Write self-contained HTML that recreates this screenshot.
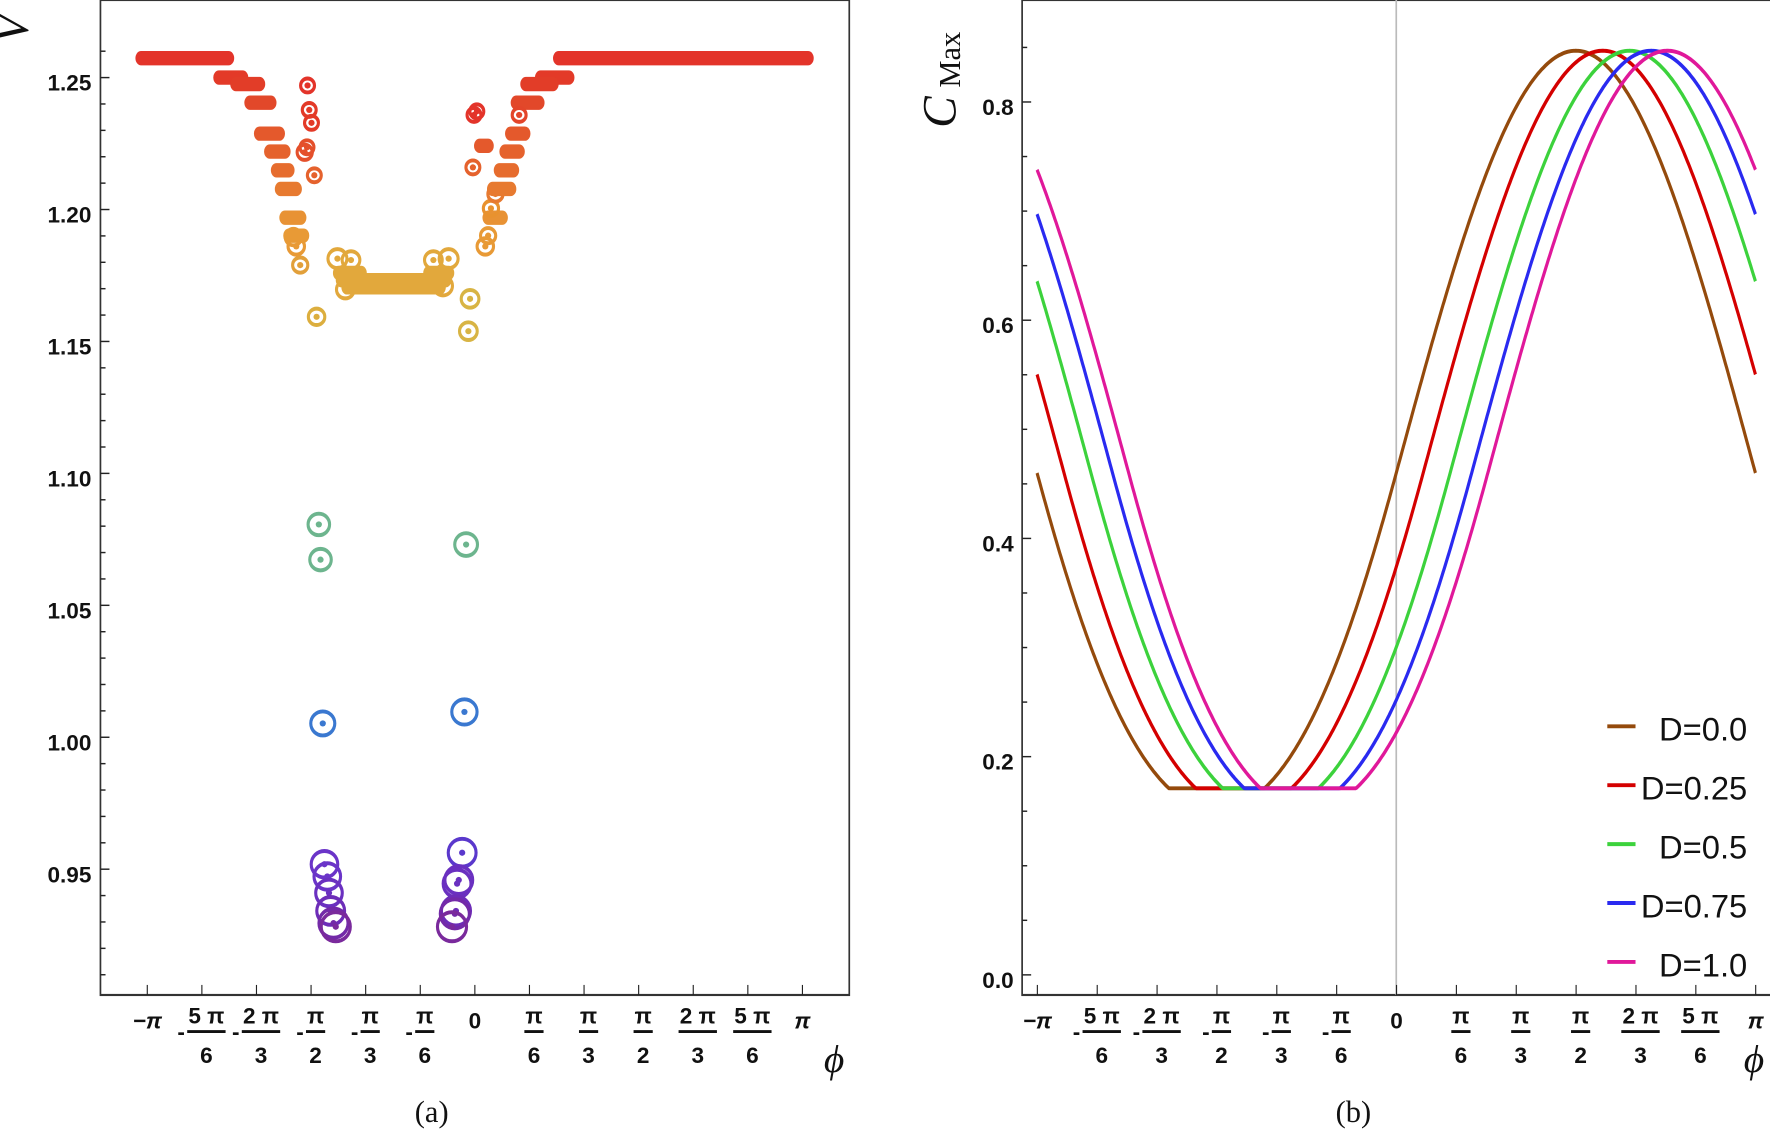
<!DOCTYPE html>
<html><head><meta charset="utf-8"><style>
html,body{margin:0;padding:0;background:#fff;width:1770px;height:1130px;overflow:hidden}
svg{display:block}
.t{font-family:"Liberation Sans",sans-serif;font-weight:bold;font-size:40px;fill:#111}
.n{font-family:"Liberation Sans",sans-serif;font-weight:normal;fill:#111}
.s{font-family:"Liberation Serif",serif;fill:#111}
</style></head><body>
<svg id="s" width="1770" height="1130" viewBox="0 0 1770 1130" xmlns="http://www.w3.org/2000/svg">
<g id="L" transform="scale(0.5643,0.7184)"></g>
<g id="R" transform="translate(885,0) scale(0.5643,0.7184)"></g>
</svg>
<script>
var NS="http://www.w3.org/2000/svg";var K=0.5643/0.7184;
function el(p,tag,a,txt){var e=document.createElementNS(NS,tag);for(var k in a)e.setAttribute(k,a[k]);if(txt!=null)e.textContent=txt;p.appendChild(e);return e;}
function tx(p,x,y,a,txt,rot){a.x=0;a.y=0;a.transform="translate("+x+","+y+") scale(1,"+K+")"+(rot?" rotate(-90)":"");return el(p,'text',a,txt);}
var L=document.getElementById('L'),R=document.getElementById('R');
var labs=[["−","π",""],["-","5 π","6"],["-","2 π","3"],["-","π","2"],["-","π","3"],["-","π","6"],["","0",""],["","π","6"],["","π","3"],["","π","2"],["","2 π","3"],["","5 π","6"],["","π",""]];
var FS=52;
function xaxis(g,x0,dx,bot){
 for(var i=0;i<13;i++){var x=x0+i*dx;
  el(g,'line',{x1:x,y1:bot,x2:x,y2:bot-14,stroke:'#222','stroke-width':2});
  var l=labs[i];
  if(l[2]===""){tx(g,x,1432,{'text-anchor':'middle',class:'t','font-size':FS,'font-style':l[1]=='0'?'normal':'italic'},(l[0]=="−"?"−":"")+l[1]);}
  else{tx(g,x+8,1425,{'text-anchor':'middle',class:'t','font-size':FS},l[1]);
   var w=l[1].length>1?68:34;
   el(g,'line',{x1:x+8-w/2,y1:1436,x2:x+8+w/2,y2:1436,stroke:'#111','stroke-width':4});
   tx(g,x+8,1480,{'text-anchor':'middle',class:'t','font-size':FS},l[2]);
   if(l[0])tx(g,x+8-w/2-4,1447,{'text-anchor':'end',class:'t','font-size':FS},"-");}
 }
}
// LEFT
el(L,'rect',{x:178,y:0,width:1327,height:1385,fill:'none',stroke:'#333','stroke-width':3});
for(var k=-1;k<=36;k++){var y=108+k*36.73;if(y<2||y>1384)continue;var maj=(k%5==0);
 el(L,'line',{x1:178,y1:y,x2:178+(maj?16:9),y2:y,stroke:'#222','stroke-width':2});}
var yl=["1.25","1.20","1.15","1.10","1.05","1.00","0.95"];
for(var i=0;i<7;i++)tx(L,162,108+i*183.7+18,{'text-anchor':'end',class:'t','font-size':58},yl[i]);
tx(L,50,40,{class:'s','font-size':84,'font-style':'italic','text-anchor':'middle'},"V",true);
xaxis(L,261,96.75,1385);
tx(L,1478,1492,{class:'s','font-size':70,'font-style':'italic','text-anchor':'middle'},"ϕ");
tx(L,765,1562,{class:'s','font-size':54,'text-anchor':'middle'},"(a)");
function seg(x1,x2,y,c){el(L,'line',{x1:x1,y1:y,x2:x2,y2:y,stroke:c,'stroke-width':20,'stroke-linecap':'round'});}
seg(250,405,81,'#e3342a');seg(990,1432,81,'#e3342a');
var S=[[388,430,108,'#e33a28'],[418,460,117,'#e23d28'],[443,480,143,'#e2482a'],[460,495,186,'#e4592c'],[478,505,211,'#e5622d'],[490,512,237,'#e66c2e'],[497,525,263,'#e77a30'],[505,533,303,'#e89234'],[512,538,328,'#e89a36'],
[958,1008,108,'#e33a28'],[932,980,117,'#e23d28'],[915,955,143,'#e2482a'],[905,930,186,'#e4592c'],[895,920,211,'#e5622d'],[885,910,237,'#e66c2e'],[873,905,263,'#e77a30'],[865,890,303,'#e89234'],[850,865,203,'#e4592c'],
[615,780,400,'#e2a83c'],[605,790,390,'#e2a83c'],[600,640,380,'#e2a83c'],[760,795,380,'#e2a83c']];
S.forEach(function(s){seg(s[0],s[1],s[2],s[3]);});
function ring(x,y,r,c){r*=1.12;el(L,'ellipse',{cx:x,cy:y,rx:r,ry:r*K,fill:'none',stroke:c,'stroke-width':5.5});el(L,'ellipse',{cx:x,cy:y,rx:5.5,ry:5.5*K,fill:c});}
var Rg=[[545,119,11,'#e3342a'],[548,153,11,'#e33a28'],[552,171,11,'#e33a28'],[540,212,12,'#e4502b'],[544,205,11,'#e4502b'],[557,244,11,'#e5622d'],[532,369,12,'#e2a03a'],[525,343,13,'#e89a36'],[520,330,13,'#e89a36'],[561,441,13,'#dcae3e'],
[840,160,11,'#e3342a'],[845,155,11,'#e3342a'],[838,233,11,'#e5622d'],[860,343,13,'#e89a36'],[865,328,12,'#e89a36'],[870,290,12,'#e8922f'],[920,160,11,'#e3452a'],[878,270,12,'#e77a30'],
[598,360,15,'#e2a83c'],[622,362,14,'#e2a83c'],[612,403,14,'#e2a83c'],[785,398,15,'#e2a83c'],[768,362,14,'#e2a83c'],[795,360,15,'#e2a83c'],[833,416,14,'#d8b444'],[830,461,14,'#d8b444'],
[565,730,17,'#6db58e'],[568,779,17,'#6db58e'],[826,758,18,'#6db58e'],
[572,1007,19,'#3a78d0'],[823,991,20,'#3a78d0'],
[575,1203,21,'#6a34c8'],[580,1220,21,'#6a34c8'],[583,1243,21,'#6a30c0'],[586,1268,22,'#6d2db8'],[591,1285,23,'#732aa8'],[595,1290,23,'#7a2a9c'],
[819,1187,22,'#5a38cc'],[813,1225,22,'#6a30c0'],[810,1230,22,'#6a30c0'],[808,1268,23,'#6d2db8'],[806,1272,23,'#732aa8'],[801,1290,23,'#7a2a9c']];
Rg.forEach(function(r){ring(r[0],r[1],r[2],r[3]);});
// RIGHT
el(R,'rect',{x:243,y:0,width:1330,height:1385,fill:'none',stroke:'#333','stroke-width':3});
el(R,'line',{x1:906,y1:0,x2:906,y2:1385,stroke:'#bbb','stroke-width':3});
for(var k=0;k<=18;k++){var y=1357-k*75.94;if(y<2)continue;var maj=(k%4==0);
 el(R,'line',{x1:243,y1:y,x2:243+(maj?16:9),y2:y,stroke:'#222','stroke-width':2});}
["0.0","0.2","0.4","0.6","0.8"].forEach(function(t,i){tx(R,228,1357-i*303.75+18,{'text-anchor':'end',class:'t','font-size':58},t);});
tx(R,125,178,{class:'s','font-size':84,'font-style':'italic'},"C",true);
tx(R,133,122,{class:'s','font-size':54},"Max",true);
xaxis(R,270,106.08,1385);
tx(R,1540,1492,{class:'s','font-size':70,'font-style':'italic','text-anchor':'middle'},"ϕ");
tx(R,830,1562,{class:'s','font-size':54,'text-anchor':'middle'},"(b)");
var cur=[[0,'#944a0c'],[0.075,'#d40000'],[0.15,'#3cd23c'],[0.21,'#2a2af0'],[0.255,'#e0189a']];
cur.forEach(function(c,j){var d="";for(var i=0;i<=600;i++){var ph=-Math.PI+i*2*Math.PI/600;var s=Math.sin(ph-c[0]*Math.PI);
 var g=s>=0?0.46+0.387*s:0.46+0.387*(s+0.2*s*s);var v=Math.max(0.171,g);
 var x=906+ph/(Math.PI/6)*106.08,y=1357-v*1518.75;d+=(i?"L":"M")+x.toFixed(1)+","+y.toFixed(1);}
 el(R,'path',{d:d,fill:'none',stroke:c[1],'stroke-width':5.5});
 var ly=1011+j*82;el(R,'line',{x1:1280,y1:ly,x2:1330,y2:ly,stroke:c[1],'stroke-width':5.5});
 tx(R,1528,ly+20,{'text-anchor':'end',class:'n','font-size':58},["D=0.0","D=0.25","D=0.5","D=0.75","D=1.0"][j]);
});
</script>
</body></html>
